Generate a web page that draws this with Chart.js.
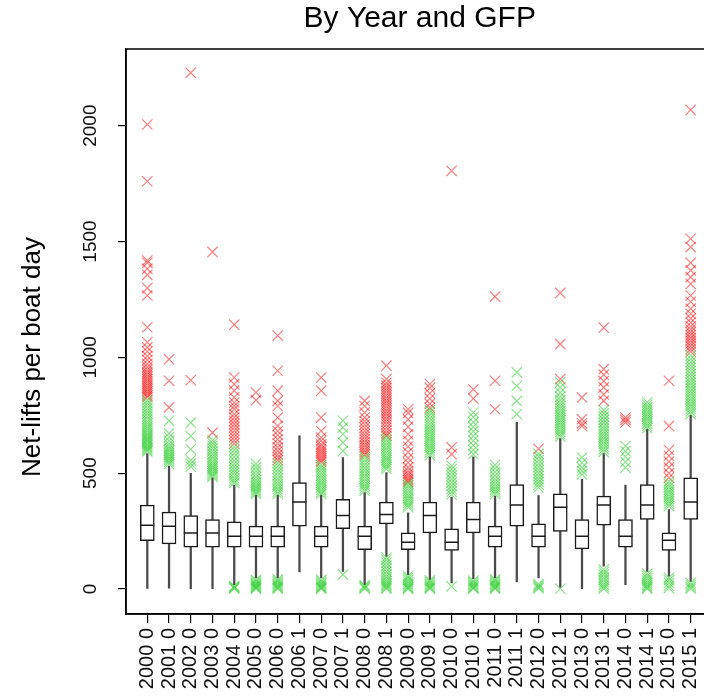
<!DOCTYPE html>
<html><head><meta charset="utf-8">
<script src="https://cdn.jsdelivr.net/npm/chart.js@4/dist/chart.umd.min.js"></script>
<style>
html,body{margin:0;padding:0;overflow:hidden;background:#fff;width:704px;height:700px}
#wrap{position:absolute;left:0;top:0;width:722px;height:700px}
</style>
</head><body>
<div id="wrap"><canvas id="c" width="722" height="700" style="width:722px;height:700px"></canvas></div>
<script>
const categories = ['2000 0','2001 0','2002 0','2003 0','2004 0','2005 0','2006 0','2006 1','2007 0','2007 1','2008 0','2008 1','2009 0','2009 1','2010 0','2010 1','2011 0','2011 1','2012 0','2012 1','2013 0','2013 1','2014 0','2014 1','2015 0','2015 1'];
const q1 =          [209,195,180,180,180,180,180,271,180,260,170,281,170,242,166,242,180,271,180,249,173,275,180,300,166,300];
const median =      [275,271,242,242,228,228,228,376,228,317,228,322,202,317,202,300,228,362,228,353,228,362,228,362,210,375];
const q3 =          [362,332,317,300,290,271,271,459,271,387,271,375,242,375,260,375,271,451,281,411,300,401,300,451,242,480];
const whiskerLow =  [0,4,1,1,19,48,48,74,48,76,19,141,62,40,26,45,48,30,48,7,1,98,19,76,55,33];
const whiskerHigh = [584,531,499,480,449,405,405,661,405,567,416,502,329,570,397,570,401,719,403,649,473,584,449,690,343,750];
const yTickValues = [0,500,1000,1500,2000];
const chartTitle = 'By Year and GFP';
const yAxisTitle = 'Net-lifts per boat day';

// mild outliers (green), per category
const mildOutliers = [
  [594,600,607,613,620,626,633,640,646,652,660,667,675,684,693,702,712,722,733,745,757,768,780,792,803,815],
  [540,548,556,563,571,580,588,597,606,615,626,640,655,672,726],
  [528,541,556,603,660,718],
  [484,492,500,508,516,524,532,541,550,560,570,582,594,606,618,630,642],
  [458,468,478,490,502,514,527,540,555,570,585,600,614,2,5,9,13],
  [410,418,426,434,442,450,460,470,482,495,510,525,540,1,4,8,12,17,22,28,34,40],
  [410,420,431,442,453,465,477,490,503,517,531,544,1,5,10,15,21,28,35,42],
  [],
  [410,419,428,438,448,458,468,479,490,501,513,525,536,1,4,8,13,19,25,32,39],
  [596,632,668,697,726,62],
  [424,434,444,454,465,476,487,498,510,522,534,546,558,570,1,6,11,16],
  [518,527,536,546,556,566,576,587,598,609,620,632,644,655,1,6,12,18,25,33,42,52,63,75,88,100,113,126,136],
  [353,362,372,382,392,402,413,424,435,446,456,0,4,9,15,22,30,39,48,56],
  [578,588,598,608,618,628,638,648,658,668,678,689,700,712,724,737,750,762,772,1,5,10,16,23,30,37],
  [408,420,433,446,460,474,488,503,518,532,11],
  [582,600,620,640,660,680,700,720,742,762,1,5,10,16,22,29,36],
  [410,420,430,441,452,464,476,490,505,520,535,1,5,10,16,22,29,36,42],
  [755,812,877,935],
  [438,450,462,474,487,500,513,527,541,556,571,584,2,8,14,21],
  [658,668,678,688,698,708,718,728,738,748,758,768,779,790,802,815,830,848,870,892,1],
  [495,510,525,545,567],
  [592,603,614,625,636,647,658,669,680,692,704,717,730,744,758,772,1,9,18,28,39,50,62,73,84],
  [524,548,572,595,617],
  [694,704,714,724,734,744,754,764,774,784,795,806,1,6,12,19,27,36,46,56,66],
  [358,368,378,388,398,408,418,428,440,452,464,4,14,26,38,48],
  [755,766,777,788,799,810,821,832,843,855,867,879,891,903,915,928,941,954,967,980,994,1008,1,8,17,26]
];
// extreme outliers (red), per category
const extremeOutliers = [
  [828,836,845,853,862,870,879,888,897,906,915,925,935,946,958,972,988,1005,1025,1043,1065,1130,1267,1299,1356,1382,1408,1418,1760,2005],
  [784,899,992],
  [901,2228],
  [675,1455],
  [628,642,656,670,684,698,712,726,740,755,776,790,805,827,856,884,913,1141],
  [815,848],
  [556,568,581,596,611,628,646,665,682,704,740,790,812,856,942,1094],
  [],
  [548,556,565,574,584,594,604,614,624,640,654,682,740,856,913],
  [],
  [580,590,600,611,622,633,645,657,669,682,696,710,724,740,762,790,812],
  [662,672,684,697,710,722,733,745,757,768,779,790,801,812,823,834,845,856,867,878,890,906,964],
  [462,470,478,488,498,510,525,545,565,590,615,640,668,700,732,760,776],
  [782,800,822,845,868,885],
  [582,611,1805],
  [822,862],
  [776,899,1262],
  [],
  [605],
  [906,1057,1278],
  [704,715,733,827],
  [812,840,870,897,925,949,1128],
  [719,730,740],
  [],
  [480,500,525,550,575,600,704,899],
  [1024,1036,1048,1060,1072,1084,1096,1108,1120,1134,1150,1168,1188,1210,1240,1267,1317,1346,1375,1408,1476,1512,2068]
];

const FONT = "'Liberation Sans', Arial, Helvetica, sans-serif";

const whiskerData = categories.map((c, i) => ({x: i + 1, y: [whiskerLow[i], whiskerHigh[i]]}));
const boxData = categories.map((c, i) => ({x: i + 1, y: [q1[i], q3[i]]}));
const medianData = categories.map((c, i) => ({x: i + 1, y: median[i]}));
const mildData = [];
mildOutliers.forEach((arr, i) => arr.forEach(v => mildData.push({x: i + 1, y: v})));
const extremeData = [];
extremeOutliers.forEach((arr, i) => arr.forEach(v => extremeData.push({x: i + 1, y: v})));

const frame = {
  id: 'frame',
  afterDraw(chart) {
    const {ctx, chartArea: a} = chart;
    ctx.save();
    ctx.strokeStyle = '#000';
    ctx.lineWidth = 1.5;
    ctx.strokeRect(a.left, a.top, a.right - a.left, a.bottom - a.top);
    // y-axis title, placed like the R axis label
    ctx.fillStyle = '#000';
    ctx.font = '26px ' + FONT;
    ctx.textAlign = 'center';
    ctx.textBaseline = 'middle';
    ctx.translate(33, 357);
    ctx.rotate(-Math.PI / 2);
    ctx.fillText(yAxisTitle, 0, 0);
    ctx.restore();
  }
};

new Chart(document.getElementById('c'), {
  type: 'bar',
  data: {
    datasets: [
      {type: 'bar', data: whiskerData, backgroundColor: '#4a4a4a', borderWidth: 0,
       barThickness: 1.6, grouped: false, order: 3},
      {type: 'bar', data: boxData, backgroundColor: '#ffffff', borderColor: '#1a1a1a',
       borderWidth: 1.5, borderSkipped: false, barThickness: 14, grouped: false, order: 2},
      {type: 'scatter', data: medianData, pointStyle: 'line', pointRadius: 7,
       pointBorderColor: '#1a1a1a', pointBorderWidth: 1.5, order: 1},
      {type: 'scatter', data: mildData, pointStyle: 'crossRot', pointRadius: 7.3,
       pointBorderColor: 'rgba(50,205,50,0.55)', pointBackgroundColor: 'rgba(0,0,0,0)',
       pointBorderWidth: 1.2, order: 0},
      {type: 'scatter', data: extremeData, pointStyle: 'crossRot', pointRadius: 7.3,
       pointBorderColor: 'rgba(255,0,0,0.5)', pointBackgroundColor: 'rgba(0,0,0,0)',
       pointBorderWidth: 1.2, order: 0}
    ]
  },
  options: {
    responsive: false,
    animation: false,
    devicePixelRatio: 1,
    layout: {padding: 0},
    events: [],
    plugins: {
      legend: {display: false},
      tooltip: {enabled: false},
      title: {
        display: true, text: chartTitle, fullSize: false,
        color: '#000', font: {family: FONT, size: 30, weight: 'normal'},
        padding: {top: 1, bottom: 12}
      }
    },
    scales: {
      x: {
        type: 'linear', min: 0.02, max: 27.05, offset: false,
        afterFit: s => { s.height = 86; s.paddingLeft = 0; s.paddingRight = 0; },
        afterBuildTicks: s => { s.ticks = categories.map((c, i) => ({value: i + 1})); },
        grid: {drawOnChartArea: false, drawTicks: true, tickLength: 9, color: '#000', lineWidth: 1.2, offset: false},
        border: {display: true, color: '#000', width: 1.5},
        ticks: {
          autoSkip: false, minRotation: 90, maxRotation: 90, padding: 5,
          color: '#111', font: {family: FONT, size: 20},
          callback: v => categories[v - 1] ?? ''
        }
      },
      y: {
        type: 'linear', min: -108, max: 2331,
        afterFit: s => { s.width = 126; s.paddingTop = 0; s.paddingBottom = 0; },
        afterBuildTicks: s => { s.ticks = yTickValues.map(v => ({value: v})); },
        grid: {drawOnChartArea: false, drawTicks: true, tickLength: 8, color: '#000', lineWidth: 1.2},
        border: {display: true, color: '#000', width: 1.5},
        ticks: {
          minRotation: 90, maxRotation: 90, crossAlign: 'center', padding: 6,
          color: '#111', font: {family: FONT, size: 19},
          callback: v => String(v)
        },
        title: {display: false}
      }
    }
  },
  plugins: [frame]
});
</script>
</body></html>
